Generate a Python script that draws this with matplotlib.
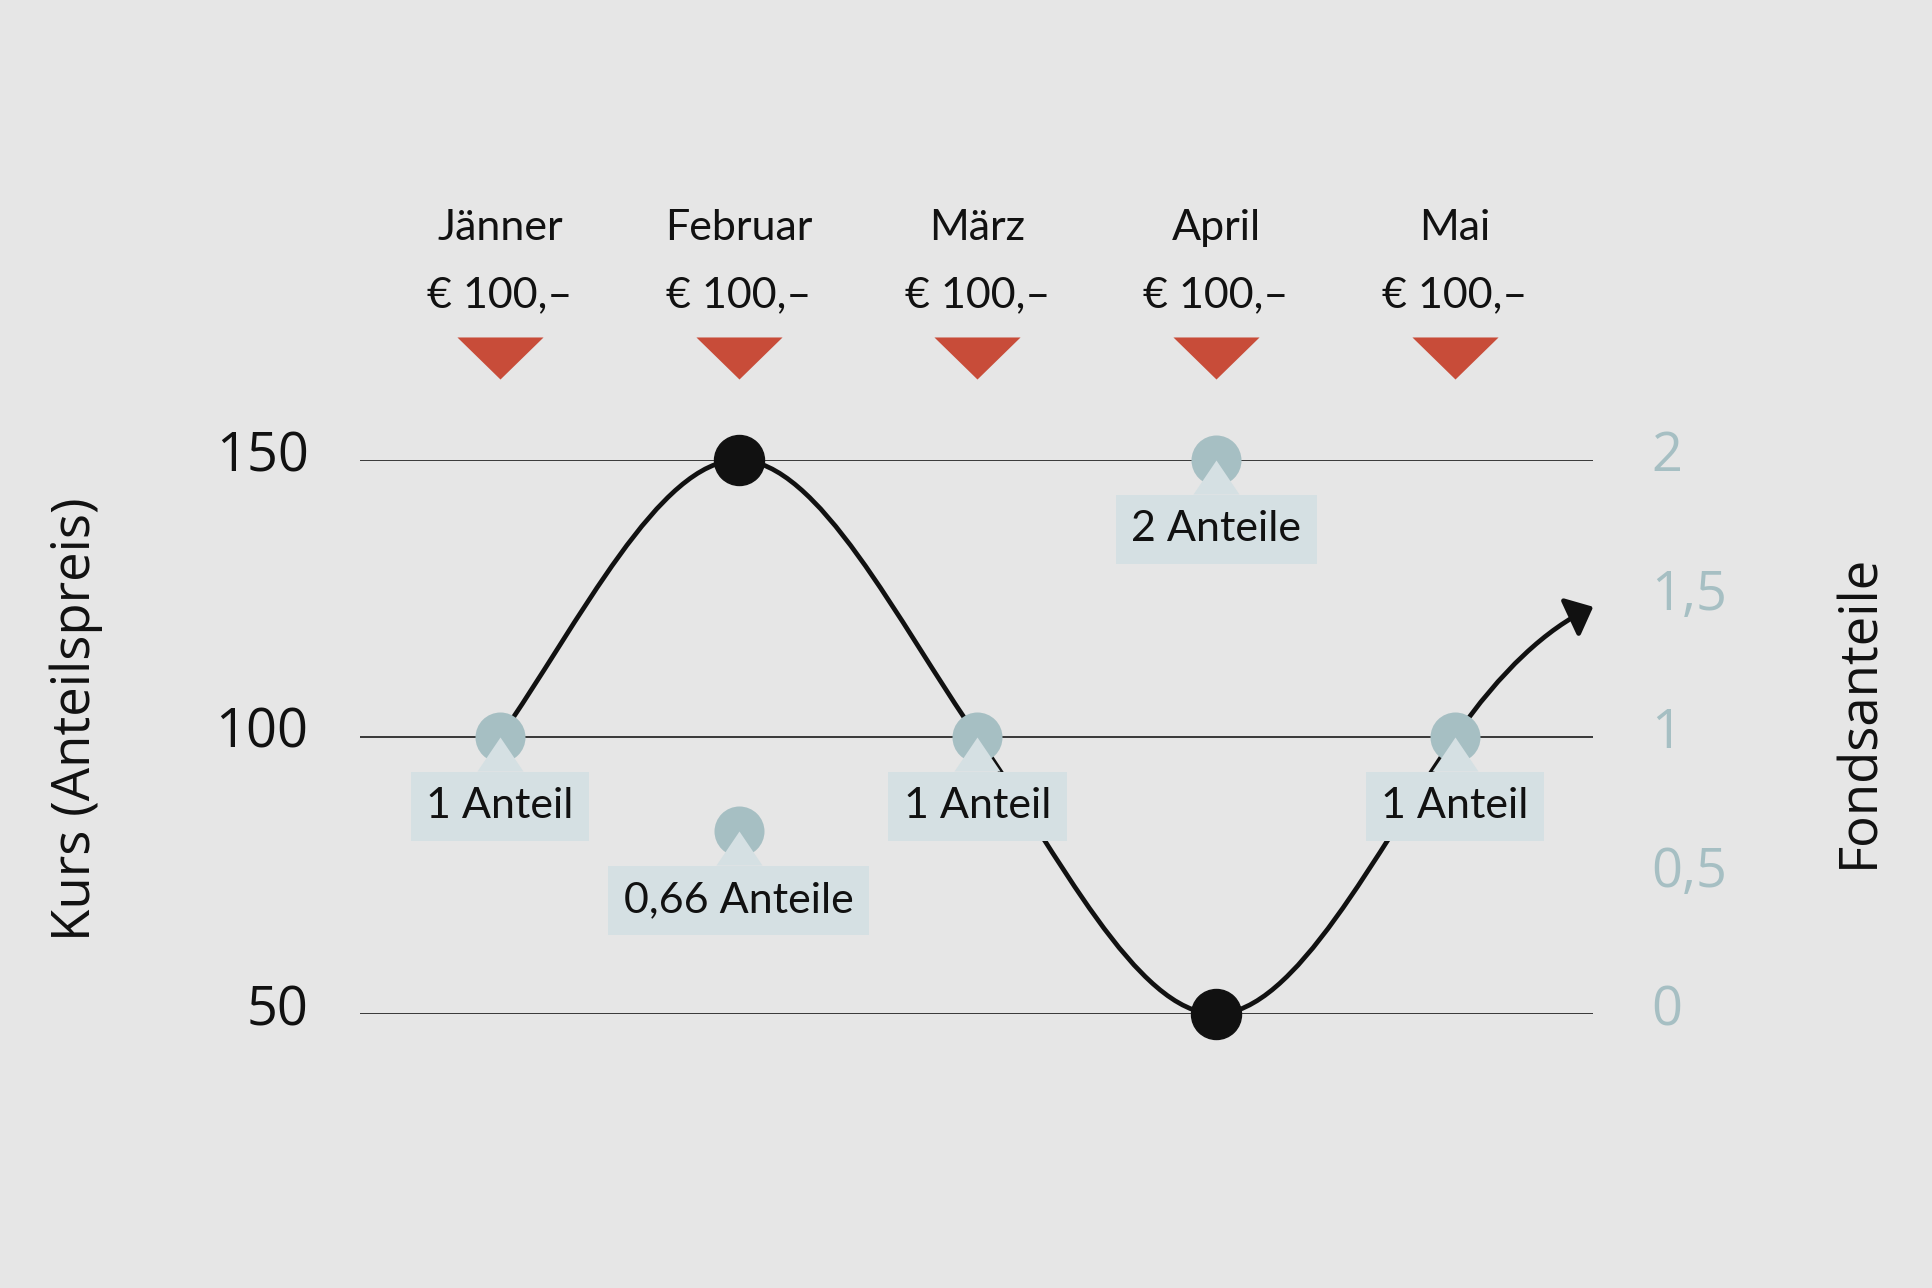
import matplotlib
matplotlib.use("Agg")
import matplotlib.pyplot as plt
from matplotlib.path import Path
from matplotlib.patches import FancyArrowPatch
from matplotlib.transforms import ScaledTranslation, blended_transform_factory

# ---------------- data ----------------
months = ["Jänner", "Februar", "März", "April", "Mai"]
deposits = ["€ 100,–", "€ 100,–", "€ 100,–", "€ 100,–", "€ 100,–"]
kurs = [100, 150, 100, 50, 100]                  # share price per month
shares = [1, 0.66, 1, 2, 1]                      # shares bought per month
share_labels = ["1 Anteil", "0,66 Anteile", "1 Anteil", "2 Anteile", "1 Anteil"]
trend_end_x = [4.58]                             # where the trend arrow ends
trend_end_y = [123.5]
curve_slopes = [62, 0, -62, 0, 62, 20]           # tangent of the smooth price curve
kurs_ticks = [50, 100, 150]
kurs_ticklabels = ["50", "100", "150"]
share_ticks = [0, 0.5, 1, 1.5, 2]
share_ticklabels = ["0", "0,5", "1", "1,5", "2"]

# ---------------- style ----------------
BG = "#e6e6e6"
RED = "#c84c39"
CIRC = "#a6bfc3"
BOX = "#d5e0e3"
INK = "#111111"
TXT_FONT = ["Lato", "DejaVu Sans"]
AX_FONT = ["Open Sans", "DejaVu Sans"]

W, H, DPI = 1932, 1288, 100
fig = plt.figure(figsize=(W / DPI, H / DPI), dpi=DPI, facecolor=BG)

left_px, right_px, top_px, bot_px = 360, 1593, 460, 1014
ax = fig.add_axes([left_px / W, 1 - bot_px / H, (right_px - left_px) / W, (bot_px - top_px) / H])
ax.set_facecolor("none")
ax.set_xlim(-0.5865, 4.579)
ax.set_ylim(50, 150)
for s in ax.spines.values():
    s.set_visible(False)
ax.set_xticks([])
ax.set_yticks(kurs_ticks)
ax.set_yticklabels(kurs_ticklabels, fontsize=39, family=AX_FONT, color=INK)
ax.tick_params(axis="y", length=0, pad=37)
for t in kurs_ticks:
    ax.axhline(t, color="#2a2a2a", lw=1.3, zorder=1)

ax2 = ax.twinx()
ax2.set_ylim(0, 2)
ax2.set_xlim(ax.get_xlim())
for s in ax2.spines.values():
    s.set_visible(False)
ax2.set_yticks(share_ticks)
ax2.set_yticklabels(share_ticklabels, fontsize=39, family=AX_FONT, color=CIRC)
ax2.tick_params(axis="y", length=0, pad=42)

# lift tick labels slightly above their grid lines (as in the original)
lift = ScaledTranslation(0, 10 / DPI, fig.dpi_scale_trans)
for lab in ax.get_yticklabels() + ax2.get_yticklabels():
    lab.set_transform(lab.get_transform() + lift)

# ---------------- smooth price curve with arrow ----------------
xs = list(range(len(kurs))) + trend_end_x
ys = kurs + trend_end_y
verts = [(xs[0], ys[0])]
codes = [Path.MOVETO]
for i in range(len(xs) - 1):
    h = xs[i + 1] - xs[i]
    verts += [(xs[i] + h / 3, ys[i] + curve_slopes[i] * h / 3),
              (xs[i + 1] - h / 3, ys[i + 1] - curve_slopes[i + 1] * h / 3),
              (xs[i + 1], ys[i + 1])]
    codes += [Path.CURVE4] * 3
arrow = FancyArrowPatch(path=Path(verts, codes),
                        arrowstyle="-|>,head_length=15,head_width=13",
                        mutation_scale=1, lw=3.4, color=INK,
                        transform=ax.transData, zorder=2, clip_on=False)
ax.add_patch(arrow)

# extreme price points (black dots)
ext_idx = [kurs.index(max(kurs)), kurs.index(min(kurs))]
ax.plot(ext_idx, [kurs[i] for i in ext_idx], "o", ms=36, color=INK,
        zorder=3, clip_on=False)

# ---------------- share markers ----------------
idx = list(range(len(shares)))
ax2.plot(idx, shares, "o", ms=36, color=CIRC, mec="none", zorder=4, clip_on=False)
tri_up = Path([(0, 0), (-23, -34), (23, -34), (0, 0)],
              [Path.MOVETO, Path.LINETO, Path.LINETO, Path.CLOSEPOLY])
ax2.plot(idx, shares, ls="none", marker=tri_up, ms=49, color=BOX, mec="none",
         zorder=5, clip_on=False)
for i, (s, lab) in enumerate(zip(shares, share_labels)):
    ax2.annotate(lab, xy=(i, s), xytext=(0, -50), textcoords="offset points",
                 ha="center", va="center", fontsize=31, family=TXT_FONT, color=INK,
                 bbox=dict(boxstyle="square,pad=0.36", fc=BOX, ec="none"),
                 zorder=6, annotation_clip=False)

# ---------------- monthly deposits on top ----------------
top = blended_transform_factory(ax.transData, ax.transAxes)
tr_month = top + ScaledTranslation(0, 220 / DPI, fig.dpi_scale_trans)
tr_dep = top + ScaledTranslation(0, 153 / DPI, fig.dpi_scale_trans)
tr_tri = top + ScaledTranslation(0, 102 / DPI, fig.dpi_scale_trans)
for i, (m, d) in enumerate(zip(months, deposits)):
    ax.text(i, 1, m, transform=tr_month, ha="center", va="baseline",
            fontsize=31, family=TXT_FONT, color=INK)
    ax.text(i, 1, d, transform=tr_dep, ha="center", va="baseline",
            fontsize=31, family=TXT_FONT, color=INK)
tri_down = Path([(-43, 21), (43, 21), (0, -21), (-43, 21)],
                [Path.MOVETO, Path.LINETO, Path.LINETO, Path.CLOSEPOLY])
ax.plot(idx, [1] * len(idx), ls="none", marker=tri_down, ms=62, color=RED,
        mec="none", transform=tr_tri, clip_on=False)

# ---------------- axis titles ----------------
fig.text(76 / W, 1 - 719 / H, "Kurs (Anteilspreis)", rotation=90, ha="center",
         va="center", fontsize=38, family=AX_FONT, color=INK)
fig.text(1860 / W, 1 - 711 / H, "Fondsanteile", rotation=90, ha="center",
         va="center", fontsize=38, family=AX_FONT, color=INK)

fig.savefig("out.png", dpi=DPI, facecolor=BG)
